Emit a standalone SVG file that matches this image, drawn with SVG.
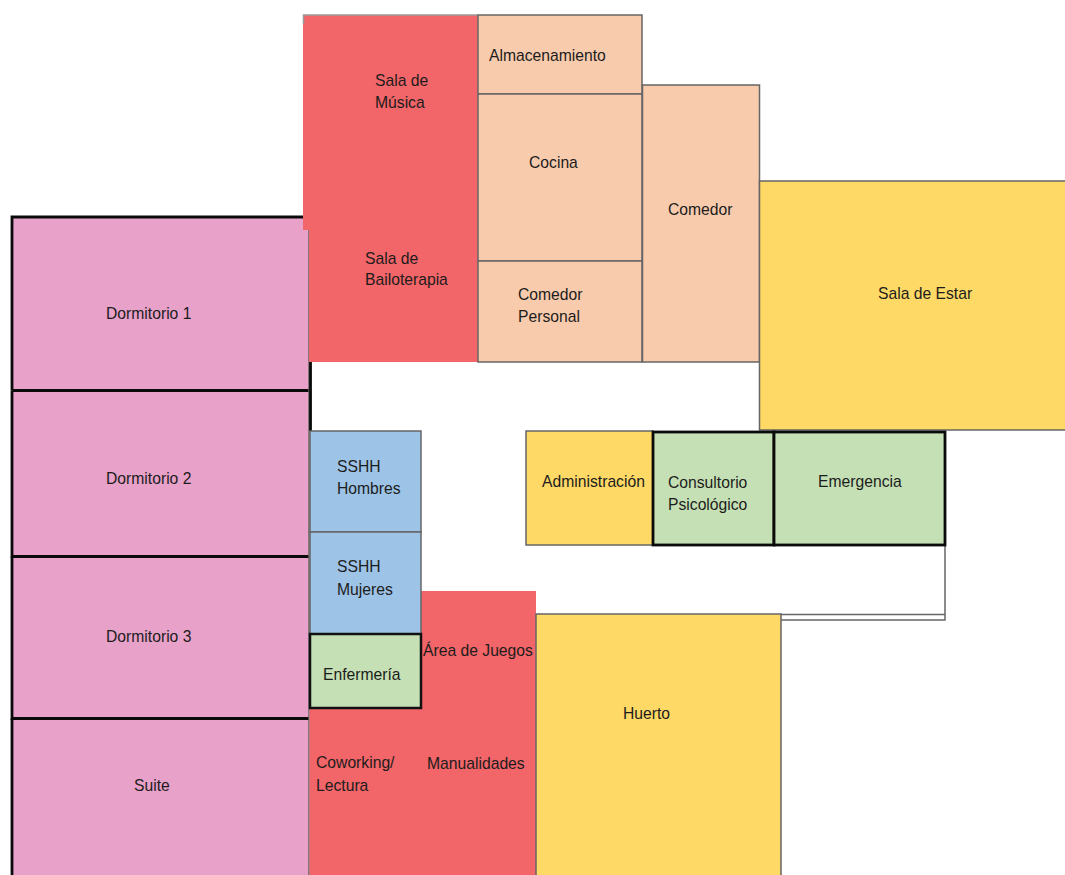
<svg xmlns="http://www.w3.org/2000/svg" width="1065" height="875" viewBox="0 0 1065 875">
<style>
text{font-family:"Liberation Sans",Arial,sans-serif;font-size:15.700px;fill:#1c1c1c}
.pink{fill:#e8a1c8}.red{fill:#f26568}.peach{fill:#f8cbad}.yellow{fill:#ffd966}.blue{fill:#9dc3e6}.green{fill:#c5e0b4}
.thin{stroke:#666;stroke-width:1.500}
.thick{stroke:#0a0a0a;stroke-width:2.800}
.none{stroke:none}
.line{fill:none}
</style>
<g id="suite"><rect class="pink none" x="12" y="718" width="297" height="157"/><path class="thick line" d="M12 718.500V875"/><text x="134" y="791">Suite</text></g>
<g id="dormitorio-3"><rect class="pink none" x="12" y="556" width="297" height="162"/><path class="thick line" d="M12 556.500V718.500H309"/><text x="106" y="642">Dormitorio 3</text></g>
<g id="dormitorio-2"><rect class="pink none" x="12" y="390" width="297" height="166"/><path class="thick line" d="M12 390.500V556.500H309"/><text x="106" y="484">Dormitorio 2</text></g>
<g id="dormitorio-1"><rect class="pink none" x="12" y="217" width="297" height="173"/><path class="thick line" d="M12 390.500V217H304M12 390.500H309"/><text x="106" y="319">Dormitorio 1</text></g>
<g id="connectors" class="line">
<path class="thin" d="M309 217V875"/>
<path class="thin" d="M945 545V620H781"/>
<path class="thin" d="M781 614.500H945"/>
<path class="thick" d="M310.500 361V431"/>
</g>
<g id="sala-musica"><rect class="red none" x="303" y="15" width="175" height="215"/><path class="thin line" d="M303.500 24V15H478" style="stroke:#999"/><text x="375" y="86">Sala de</text><text x="375" y="108">Música</text></g>
<g id="sala-bailoterapia"><rect class="red none" x="309" y="220" width="169" height="142"/><text x="365" y="264">Sala de</text><text x="365" y="285">Bailoterapia</text></g>
<g id="almacenamiento"><rect class="peach thin" x="478" y="15" width="164" height="79"/><text x="489" y="61">Almacenamiento</text></g>
<g id="cocina"><rect class="peach thin" x="478" y="94" width="164" height="167"/><text x="529" y="168">Cocina</text></g>
<g id="comedor-personal"><rect class="peach thin" x="478" y="261" width="164" height="101"/><text x="518" y="300">Comedor</text><text x="518" y="322">Personal</text></g>
<g id="comedor"><rect class="peach thin" x="642.500" y="85" width="117" height="277"/><text x="668" y="215">Comedor</text></g>
<g id="sala-estar"><path class="yellow thin" d="M1065 181H759.500V430H1065"/><text x="878" y="299">Sala de Estar</text></g>
<g id="administracion"><rect class="yellow thin" x="526" y="431" width="127" height="114"/><text x="542" y="487">Administración</text></g>
<g id="consultorio"><rect class="green thick" x="653" y="432" width="121" height="113"/><text x="668" y="488">Consultorio</text><text x="668" y="510">Psicológico</text></g>
<g id="emergencia"><rect class="green thick" x="774" y="432" width="171" height="113"/><text x="818" y="487">Emergencia</text></g>
<g id="area-juegos"><path class="red none" d="M421 591H536V875H309.500V708H421Z"/><text x="423" y="656">Área de Juegos</text></g>
<g id="coworking"><text x="316" y="768">Coworking/</text><text x="316" y="791">Lectura</text></g>
<g id="manualidades"><text x="427" y="769">Manualidades</text></g>
<g id="sshh-hombres"><rect class="blue thin" x="310" y="431" width="111" height="101"/><text x="337" y="472">SSHH</text><text x="337" y="494">Hombres</text></g>
<g id="sshh-mujeres"><rect class="blue thin" x="310" y="532" width="111" height="102"/><text x="337" y="572">SSHH</text><text x="337" y="595">Mujeres</text></g>
<g id="enfermeria"><rect class="green" x="310" y="634" width="111" height="74" style="stroke:#111;stroke-width:2.500"/><text x="323" y="680">Enfermería</text></g>
<g id="huerto"><path class="yellow thin" d="M536 875V614H781V875"/><text x="623" y="719">Huerto</text></g>
</svg>
